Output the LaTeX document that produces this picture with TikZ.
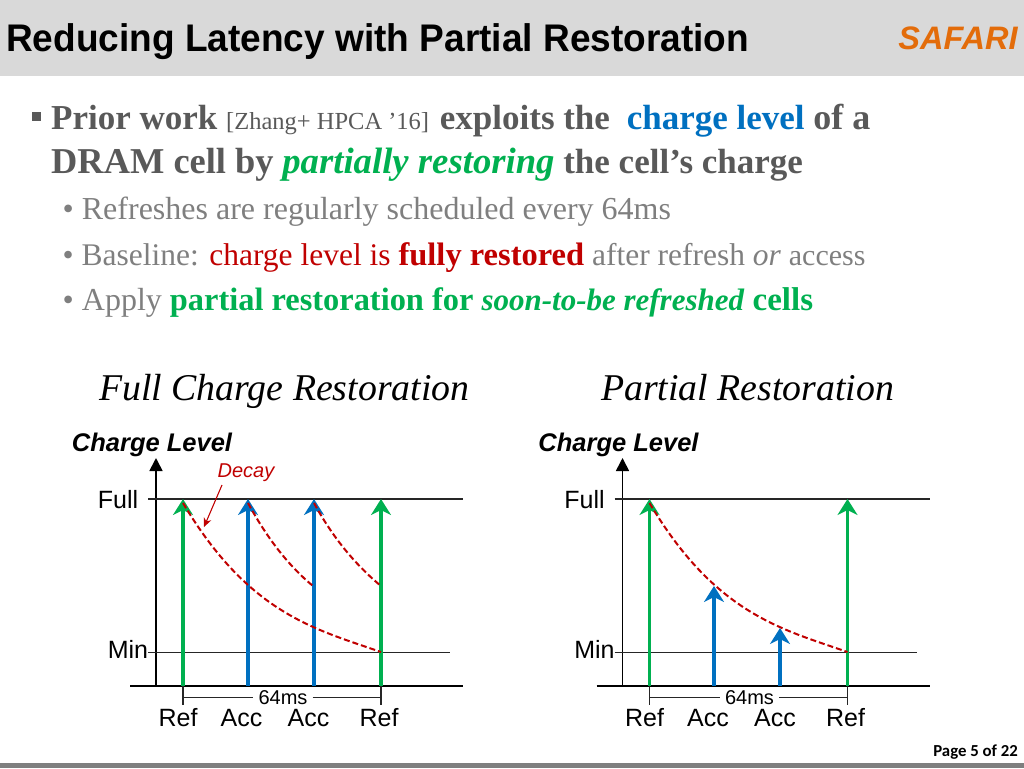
\documentclass[tikz,border=0pt]{standalone}
\usepackage{fontspec}
\setmainfont{Liberation Serif}
\setsansfont{Liberation Sans}
\newfontfamily\pagefont{Carlito}
\usetikzlibrary{arrows.meta, positioning}
\definecolor{topbar}{HTML}{D9D9D9}
\definecolor{footbar}{HTML}{7F7F7F}
\definecolor{safari}{HTML}{E36C0A}
\definecolor{darktext}{HTML}{595959}
\definecolor{softtext}{HTML}{7F7F7F}
\definecolor{refgreen}{HTML}{00B050}
\definecolor{accblue}{HTML}{0070C0}
\definecolor{decayred}{HTML}{C00000}
\newcommand{\fs}[1]{\fontsize{#1}{#1}\selectfont}
\tikzset{
    bodyline/.style={anchor=base west, inner sep=0pt},
    axisline/.style={line width=1.7pt, black},
    levelline/.style={line width=1.3pt, black!85},
    refarrow/.style={line width=3.6pt, refgreen, -{Stealth[length=16pt, width=20pt, inset=5pt]}},
    accarrow/.style={line width=3.6pt, accblue, -{Stealth[length=16pt, width=20pt, inset=5pt]}},
    decaycurve/.style={line width=2pt, decayred, dash pattern=on 6pt off 3pt},
    chartlabel/.style={inner sep=0pt, anchor=base, font=\sffamily\fs{25}},
    charttitle/.style={inner sep=0pt, anchor=base west, font=\itshape\fs{37.8}},
    axistitle/.style={inner sep=0pt, anchor=base, font=\sffamily\bfseries\itshape\fs{25.5}}
}
\begin{document}
\begin{tikzpicture}[x=1pt, y=-1pt]
    \useasboundingbox (0,0) rectangle (1024,768);
    \fill[topbar] (0,0) rectangle (1024,76);
    \fill[footbar] (0,763) rectangle (1024,768);
    \node[inner sep=0pt, anchor=base west, font=\sffamily\bfseries\fs{38.5}] (title) at (6,52) {\scalebox{0.962}[1]{Reducing Latency with Partial Restoration}};
    \node[inner sep=0pt, font=\sffamily\bfseries\itshape\fs{32.5}, text=safari] (logo) at (958,38) {SAFARI};
    \node[inner sep=0pt, anchor=base east, font=\pagefont\bfseries\fs{16.8}] (page) at (1018,756) {Page 5 of 22};

    % text block
    \node[fill=darktext, minimum size=9pt, inner sep=0pt] (mark) at (36,116) {};
    \node[bodyline, font=\bfseries\fs{35}, text=darktext] (line1) at (51,129) {Prior work {\mdseries\fs{24.5}[Zhang+ HPCA ’16]}\hspace{2pt} exploits the\hspace{8pt} \textcolor{accblue}{charge level} {\fs{36}of a}};
    \node[bodyline, font=\bfseries\fs{35}, text=darktext] (line2) at (51,173) {{\fs{36.4}DRAM cell by} \textcolor{refgreen}{\textit{\fs{36.7}partially restoring}} the cell’s charge};
    \node[bodyline, font=\fs{32}, text=softtext] (line3) at (62.5,219) {• Refreshes are regularly scheduled every 64ms};
    \node[bodyline, font=\fs{31.5}, text=softtext] (line4) at (62.5,265) {• Baseline: \textcolor{decayred}{charge level is \textbf{\fs{32.5}fully restored}} after refresh \textit{or} {\fs{30}access}};
    \node[bodyline, font=\fs{32}, text=softtext] (line5) at (62.5,310) {• Apply \textcolor{refgreen}{\textbf{\fs{32.4}partial restoration for \textit{\fs{31}soon-to-be refreshed} \fs{33}cells}}};

    \node[charttitle] (fulltitle) at (99,400) {Full Charge Restoration};
    \node[charttitle] (parttitle) at (601,400) {Partial Restoration};

    % both charts have the same axes
    \foreach \c/\s in {l/0, r/466.5} {
        \begin{scope}[xshift=\s pt]
            \coordinate (\c base0) at (130,686);
            \coordinate (\c base1) at (463,686);
            \coordinate (\c axis0) at (156,686);
            \coordinate (\c axis1) at (156,458);
            \coordinate (\c full0) at (148,499);
            \coordinate (\c full1) at (463,499);
            \coordinate (\c min0) at (148,652.5);
            \coordinate (\c min1) at (450,652.5);
            \coordinate (\c a) at (183,686);
            \coordinate (\c b) at (381,686);
            \coordinate (\c at) at (183,499);
            \coordinate (\c bt) at (381,499);
            \coordinate (\c tick0) at (183,705);
            \coordinate (\c tick1) at (381,705);
            \node[chartlabel, inner xsep=5pt] (\c span) at (283,704) {\fs{20}64ms};
            \coordinate (\c span0) at (183,697.5);
            \coordinate (\c span1) at (381,697.5);

            \draw[axisline] (\c base0) -- (\c base1);
            \draw[axisline, -{Stealth[length=13pt, width=13pt, inset=0pt]}] (\c axis0) -- (\c axis1);
            \draw[levelline] (\c full0) -- (\c full1);
            \draw[levelline] (\c min0) -- (\c min1);
            \draw[levelline] (\c a) -- (\c tick0);
            \draw[levelline] (\c b) -- (\c tick1);
            \draw[levelline] (\c span0) -- (\c span.west |- \c span0);
            \draw[levelline] (\c span.east |- \c span1) -- (\c span1);
            \draw[refarrow] (\c a) -- (\c at);
            \draw[refarrow] (\c b) -- (\c bt);

            \node[chartlabel] (\c fulltext) at (118,508) {Full};
            \node[chartlabel] (\c mintext) at (128,658) {Min};
            \node[chartlabel] (\c refa) at (178,726) {Ref};
            \node[chartlabel] (\c acca) at (241.5,726) {Acc};
            \node[chartlabel] (\c accb) at (308.5,726) {Acc};
            \node[chartlabel] (\c refb) at (379,726) {Ref};
            \node[axistitle] (\c level) at (152,451) {Charge Level};
        \end{scope}
    }

    % left chart
    \coordinate (l1) at (248,686);
    \coordinate (l1t) at (248,499);
    \coordinate (l2) at (314,686);
    \coordinate (l2t) at (314,499);
    \draw[accarrow] (l1) -- (l1t);
    \draw[accarrow] (l2) -- (l2t);
    \draw[decaycurve] (183,503) .. controls (249,614) and (315,629) .. (381,652);
    \draw[decaycurve] (248,503) .. controls (268,540) and (290,567) .. (313,586);
    \draw[decaycurve] (314,503) .. controls (334,540) and (358,567) .. (381,586);
    \node[inner sep=0pt, anchor=base, font=\sffamily\itshape\fs{20}, text=decayred] (decay) at (246,477) {Decay};
    \coordinate (decaytip) at (204,527);
    \draw[line width=1.1pt, decayred, -{Stealth[length=9pt, width=8pt]}] (222,485) -- (decaytip);

    % right chart
    \coordinate (r1) at (714,686);
    \coordinate (r1t) at (714,586);
    \coordinate (r2) at (780,686);
    \coordinate (r2t) at (780,628);
    \draw[accarrow] (r1) -- (r1t);
    \draw[accarrow] (r2) -- (r2t);
    \draw[decaycurve] (649.5,503) .. controls (715.5,614) and (781.5,629) .. (847.5,652);
\end{tikzpicture}
\end{document}
